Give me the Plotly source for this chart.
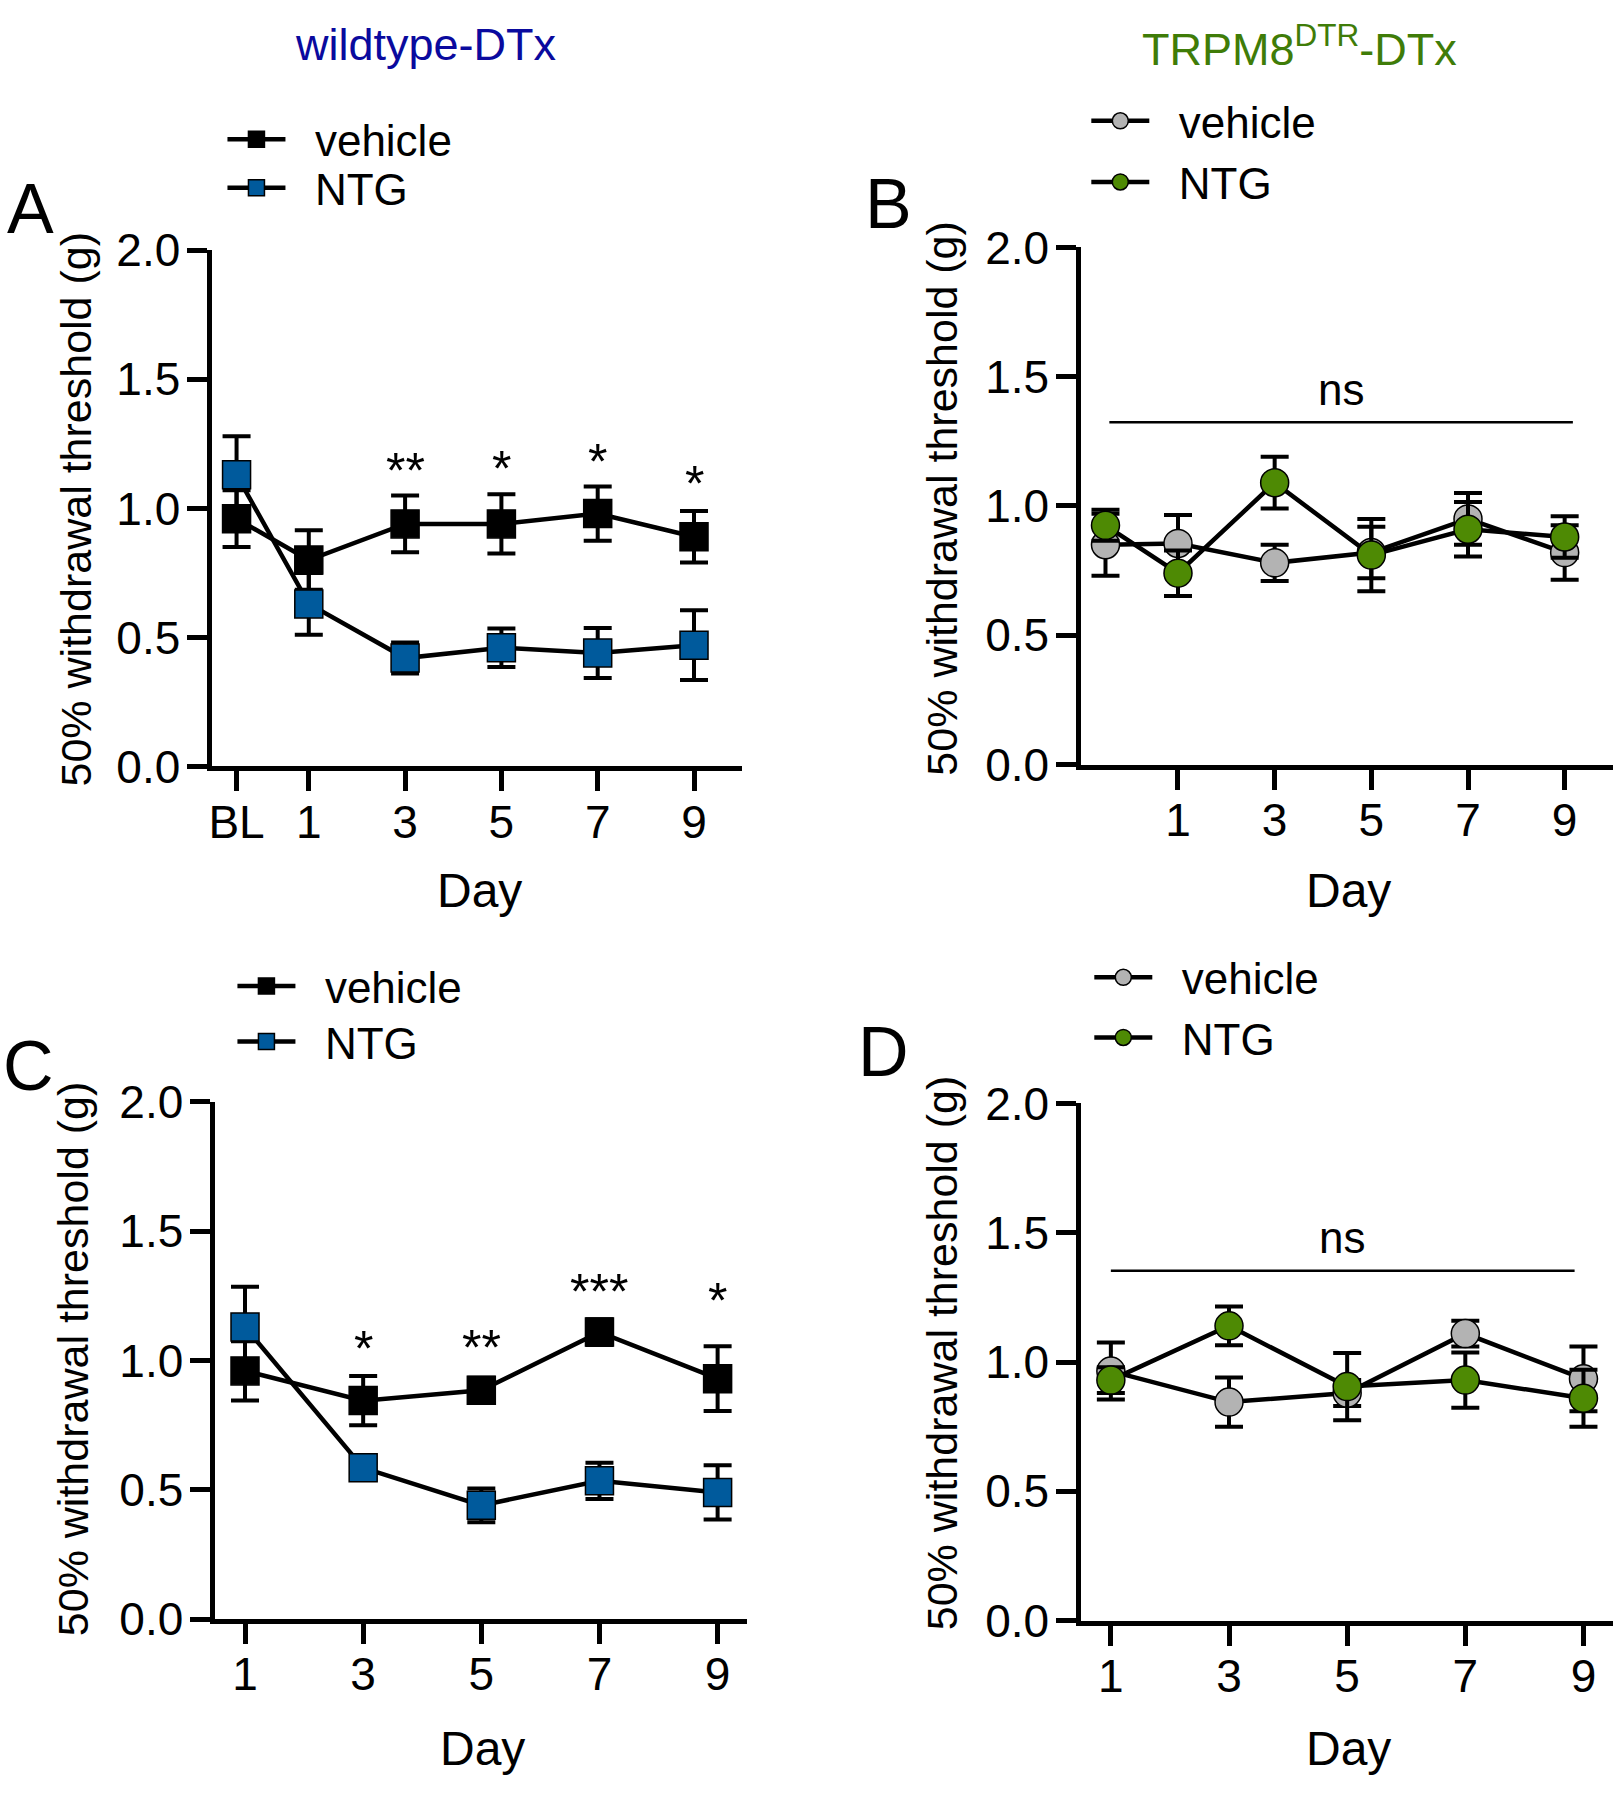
import plotly.graph_objects as go

W, H = 1613, 1800
FONT = "Liberation Sans, Arial, Helvetica, sans-serif"

# ---------------- data ----------------
A_x = [-0.5, 1, 3, 5, 7, 9]
A_ticktext = ["BL", "1", "3", "5", "7", "9"]
A_veh = [0.96, 0.80, 0.94, 0.94, 0.98, 0.89]
A_veh_err = [0.11, 0.115, 0.11, 0.115, 0.105, 0.10]
A_ntg = [1.13, 0.63, 0.42, 0.46, 0.44, 0.47]
A_ntg_err = [0.15, 0.12, 0.06, 0.075, 0.097, 0.135]
A_star_x = [3, 5, 7, 9]
A_star_y = [1.185, 1.193, 1.218, 1.134]
A_star_txt = ["**", "*", "*", "*"]

B_x = [-0.5, 1, 3, 5, 7, 9]
B_ticks = [1, 3, 5, 7, 9]
B_veh = [0.85, 0.855, 0.78, 0.82, 0.95, 0.82]
B_veh_err = [0.12, 0.11, 0.07, 0.10, 0.10, 0.105]
B_ntg = [0.925, 0.74, 1.09, 0.81, 0.91, 0.88]
B_ntg_err = [0.06, 0.088, 0.10, 0.14, 0.105, 0.08]

C_x = [1, 3, 5, 7, 9]
C_veh = [0.96, 0.845, 0.885, 1.11, 0.93]
C_veh_err = [0.115, 0.095, 0.048, 0.05, 0.125]
C_ntg = [1.13, 0.585, 0.44, 0.535, 0.49]
C_ntg_err = [0.155, 0.02, 0.065, 0.07, 0.105]
C_star_x = [3, 5, 7, 9]
C_star_y = [1.084, 1.088, 1.304, 1.272]
C_star_txt = ["*", "**", "***", "*"]

D_x = [1, 3, 5, 7, 9]
D_veh = [0.965, 0.845, 0.88, 1.11, 0.935]
D_veh_err = [0.11, 0.095, 0.05, 0.05, 0.125]
D_ntg = [0.93, 1.14, 0.905, 0.93, 0.86]
D_ntg_err = [0.05, 0.075, 0.13, 0.107, 0.11]

Y_TICKS = [0.0, 0.5, 1.0, 1.5, 2.0]
Y_TICKTEXT = ["0.0", "0.5", "1.0", "1.5", "2.0"]

# ---------------- styles ----------------
BLACK = "#000000"
BLUE = "#005a9c"
GRAY = "#b3b3b3"
GREEN = "#4e8a04"
TITLE_BLUE = "#0a0a9e"
TITLE_GREEN = "#3f7c08"
PAD = "\u00a0\u00a0"


def px_x(p):
    return p / W


def px_y(p):
    return 1 - p / H


fig = go.Figure()


def add_series(xs, ys, err, xa, ya, symbol, fill, name, legend):
    fig.add_trace(go.Scatter(
        x=xs, y=ys, mode="lines+markers", name=PAD + name,
        xaxis=xa, yaxis=ya, legend=legend, showlegend=True,
        line=dict(color=BLACK, width=4.5),
        marker=dict(symbol=symbol, size=28, color=fill,
                    line=dict(color=BLACK, width=1.5)),
        error_y=dict(type="data", array=err, visible=True,
                     thickness=4, width=14, color=BLACK),
        cliponaxis=False,
    ))


add_series(A_x, A_veh, A_veh_err, "x", "y", "square", BLACK, "vehicle", "legend")
add_series(A_x, A_ntg, A_ntg_err, "x", "y", "square", BLUE, "NTG", "legend2")
add_series(B_x, B_veh, B_veh_err, "x2", "y2", "circle", GRAY, "vehicle", "legend3")
add_series(B_x, B_ntg, B_ntg_err, "x2", "y2", "circle", GREEN, "NTG", "legend4")
add_series(C_x, C_veh, C_veh_err, "x3", "y3", "square", BLACK, "vehicle", "legend5")
add_series(C_x, C_ntg, C_ntg_err, "x3", "y3", "square", BLUE, "NTG", "legend6")
add_series(D_x, D_veh, D_veh_err, "x4", "y4", "circle", GRAY, "vehicle", "legend7")
add_series(D_x, D_ntg, D_ntg_err, "x4", "y4", "circle", GREEN, "NTG", "legend8")

axis_common = dict(
    showgrid=False, zeroline=False, showline=True, linecolor=BLACK, linewidth=5,
    ticks="outside", ticklen=20, tickwidth=5, tickcolor=BLACK,
    tickfont=dict(family=FONT, size=46, color=BLACK), mirror=False,
)

# panel pixel boxes: (left, right, top(2.0), bottom(0.0))
boxes = {
    "A": (209, 740, 231, 762.5),
    "B": (1080, 1613, 228, 760.5),
    "C": (212, 745, 1108, 1640.5),
    "D": (1080, 1613, 1109.5, 1642),
}
xranges = {"A": [-1, 10], "B": [-1, 10], "C": [0.5, 9.5], "D": [0.5, 9.5]}
names = {"A": ("xaxis", "yaxis", "x", "y"), "B": ("xaxis2", "yaxis2", "x2", "y2"),
         "C": ("xaxis3", "yaxis3", "x3", "y3"), "D": ("xaxis4", "yaxis4", "x4", "y4")}
xtickvals = {"A": A_x, "B": B_ticks, "C": C_x, "D": D_x}
xticktext = {"A": A_ticktext, "B": [str(v) for v in B_ticks],
             "C": [str(v) for v in C_x], "D": [str(v) for v in D_x]}

layout_axes = {}
for k, (l, r, t, b) in boxes.items():
    xn, yn, xr, yr = names[k]
    layout_axes[xn] = dict(axis_common, domain=[px_x(l), min(1.0, px_x(r))],
                           range=xranges[k], anchor=yr,
                           tickvals=xtickvals[k], ticktext=xticktext[k],
                           ticklabelstandoff=-9)
    layout_axes[yn] = dict(axis_common, domain=[px_y(b), px_y(t)],
                           range=[0, 2], anchor=xr,
                           tickvals=Y_TICKS, ticktext=Y_TICKTEXT,
                           ticklabelstandoff=-2)

fig.update_layout(**layout_axes)

annotations = []


def txt(x, y, text, size, color=BLACK, angle=0, xref="paper", yref="paper", xanchor="center", yanchor="middle"):
    annotations.append(dict(x=x, y=y, xref=xref, yref=yref, text=text, showarrow=False,
                            font=dict(family=FONT, size=size, color=color), textangle=angle,
                            xanchor=xanchor, yanchor=yanchor))


# titles
txt(px_x(423), px_y(19), "wildtype-DTx", 45, TITLE_BLUE)
txt(px_x(1299), px_y(21), "TRPM8<sup>DTR</sup>-DTx", 45, TITLE_GREEN)

# panel letters
txt(px_x(27), px_y(188), "A", 70)
txt(px_x(887), px_y(183), "B", 70)
txt(px_x(25), px_y(1071), "C", 70)
txt(px_x(882), px_y(1057), "D", 70)

# y-axis titles
YT = "50% withdrawal threshold (g)"
txt(px_x(72), px_y(497), YT, 43, angle=-90)
txt(px_x(940), px_y(486), YT, 43, angle=-90)
txt(px_x(70), px_y(1372), YT, 43, angle=-90)
txt(px_x(940), px_y(1366), YT, 43, angle=-90)

# x-axis titles
txt(px_x(477), px_y(890), "Day", 48)
txt(px_x(1348), px_y(890), "Day", 48)
txt(px_x(480), px_y(1774), "Day", 48)
txt(px_x(1348), px_y(1774), "Day", 48)

# significance stars
for xv, yv, s in zip(A_star_x, A_star_y, A_star_txt):
    txt(xv, yv - 0.04, s, 50, xref="x", yref="y")
for xv, yv, s in zip(C_star_x, C_star_y, C_star_txt):
    txt(xv, yv - 0.04, s, 50, xref="x3", yref="y3")

# ns labels
txt(4.37, 1.45, "ns", 44, xref="x2", yref="y2")
txt(4.92, 1.483, "ns", 44, xref="x4", yref="y4")

shapes = [
    dict(type="line", xref="x2", yref="y2", x0=-0.42, x1=9.17, y0=1.324, y1=1.324,
         line=dict(color=BLACK, width=2.5)),
    dict(type="line", xref="x4", yref="y4", x0=1.0, x1=8.85, y0=1.353, y1=1.353,
         line=dict(color=BLACK, width=2.5)),
]

# legends (one per entry so each row sits exactly); x = start of the key line - 8 px
leg_pos = {
    "legend": (219, 117), "legend2": (219, 167),
    "legend3": (1085, 98), "legend4": (1085, 161),
    "legend5": (229, 989), "legend6": (229, 1046),
    "legend7": (1088, 980), "legend8": (1088, 1042),
}
legends = {}
for ln, (lx, cy) in leg_pos.items():
    legends[ln] = dict(x=px_x(lx), y=px_y(cy), xanchor="left", yanchor="middle",
                       bgcolor="rgba(0,0,0,0)", borderwidth=0, itemwidth=58,
                       font=dict(family=FONT, size=44, color=BLACK))

fig.update_layout(
    width=W, height=H, margin=dict(l=0, r=0, t=0, b=0),
    paper_bgcolor="white", plot_bgcolor="white",
    annotations=annotations, shapes=shapes, **legends,
)

fig.write_html("out.html", config={"displayModeBar": False},
               post_script="document.body.style.margin='0px';document.body.style.padding='0px';")
